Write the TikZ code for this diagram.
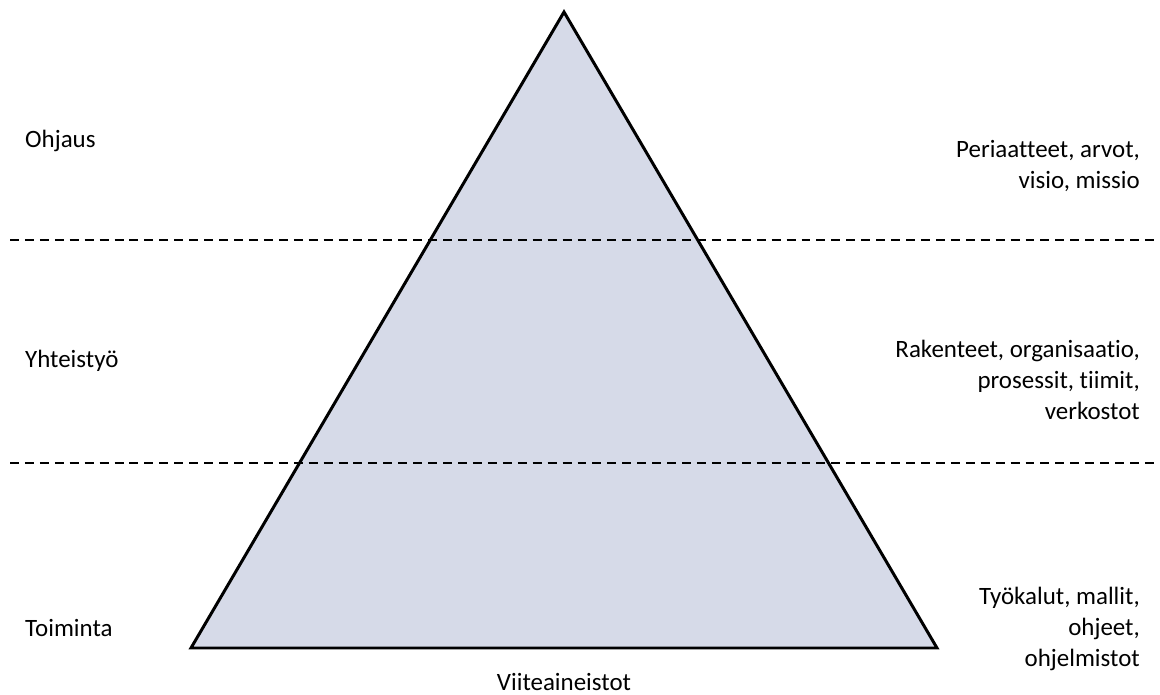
\documentclass[tikz,border=0pt]{standalone}
\usepackage{fontspec}
\setmainfont[Ligatures={NoCommon}]{Carlito}
\usepackage{tikz}
\usetikzlibrary{calc}
\definecolor{pyramidfill}{HTML}{D6DAE8}
\tikzset{
  levellabel/.style={anchor=west, font=\fontsize{14.2}{17.5}\selectfont},
  notelabel/.style={anchor=east, align=right, font=\fontsize{14.2}{17.5}\selectfont},
  levelline/.style={line width=1.1pt, dash pattern=on 5.1pt off 3.4pt}
}
\begin{document}
\begin{tikzpicture}[x=0.02cm, y=-0.02cm]

% Canvas
\useasboundingbox (0,0) rectangle (1160,695);

% Pyramid
\coordinate (apex) at (564,12);
\coordinate (baseL) at (191,648);
\coordinate (baseR) at (937,648);
\draw[line width=1.7pt, line join=miter, fill=pyramidfill] (apex) -- (baseR) -- (baseL) -- cycle;

% Level separators
\coordinate (sepAL) at (10,240);
\coordinate (sepAR) at (1155,240);
\coordinate (sepBL) at (10,463);
\coordinate (sepBR) at (1155,463);
\draw[levelline] (sepAL) -- (sepAR);
\draw[levelline] (sepBL) -- (sepBR);

% Level names
\node[levellabel] (ohjaus) at (19,141) {Ohjaus};
\node[levellabel] (yhteistyo) at (19,361) {Yhteistyö};
\node[levellabel] (toiminta) at (19,628) {Toiminta};

% Contents of each level
\node[notelabel] (periaatteet) at (1146,166) {Periaatteet, arvot,\\visio, missio};
\node[notelabel] (rakenteet) at (1146,380) {Rakenteet, organisaatio,\\prosessit, tiimit,\\verkostot};
\node[notelabel] (tyokalut) at (1146,629) {Työkalut, mallit,\\ohjeet,\\ohjelmistot};

% Base
\node[font=\fontsize{14.2}{17.5}\selectfont, inner sep=0.5pt] (viite) at (564,682) {Viiteaineistot};

\end{tikzpicture}
\end{document}
